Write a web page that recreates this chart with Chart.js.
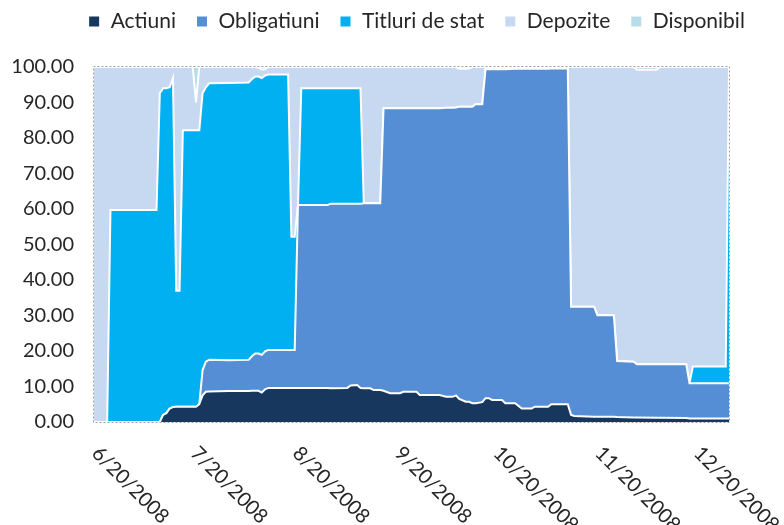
<!DOCTYPE html>
<html>
<head>
<meta charset="utf-8">
<script src="https://cdn.jsdelivr.net/npm/chart.js@4.4.1/dist/chart.umd.min.js"></script>
<style>
  html, body { margin: 0; padding: 0; background: #fff; }
</style>
</head>
<body>
<canvas id="chart" width="784" height="525"></canvas>
<script>
// day offsets from 6/20/2008 where the portfolio shares change
const days = [-1, 3, 4, 18, 19, 20, 21, 22, 23, 24, 25, 26, 29, 30, 31, 32, 33, 34, 40, 46,
  47, 48, 49, 50, 51, 52, 58, 59, 60, 61, 62, 70, 71, 76, 77, 79, 80, 81, 83, 84,
  86, 87, 89, 92, 93, 97, 98, 104, 106, 108, 109, 110, 112, 113, 114, 115, 117, 118, 119, 120,
  123, 124, 127, 129, 132, 133, 137, 138, 143, 144, 145, 151, 152, 157, 158, 163, 164, 170, 171, 179,
  180, 181, 191, 192];

const actiuni = [0, 0, 0, 0, 0, 2.0, 2.5, 3.8, 4.2, 4.3, 4.3, 4.3, 4.3, 4.3, 5.0, 7.5, 8.5, 8.6, 8.7, 8.7,
  8.8, 8.8, 8.8, 8.3, 9.2, 9.6, 9.6, 9.6, 9.6, 9.6, 9.6, 9.6, 9.5, 9.6, 10.3, 10.4, 9.6, 9.5, 9.5, 9.0,
  9.0, 8.8, 8.1, 8.1, 8.5, 8.5, 7.6, 7.6, 7.1, 7.1, 7.5, 6.5, 5.7, 5.7, 5.3, 5.3, 5.6, 6.7, 6.7, 6.2,
  6.2, 5.3, 5.3, 3.8, 3.8, 4.3, 4.3, 5.0, 5.0, 2.0, 1.7, 1.5, 1.5, 1.5, 1.4, 1.3, 1.3, 1.2, 1.2, 1.1,
  1.0, 1.0, 1.0, 1.0];

const obligatiuni = [0, 0, 0, 0, 0, 0, 0, 0, 0, 0, 0, 0, 0, 0, 0, 7.1, 8.5, 8.9, 8.7, 8.8,
  9.7, 10.5, 10.5, 10.6, 10.7, 10.7, 10.7, 10.7, 10.7, 51.5, 51.5, 51.5, 52.0, 51.9, 51.2, 51.1, 51.9, 52.1, 52.1, 52.6,
  52.6, 79.6, 80.3, 80.3, 79.9, 79.9, 80.8, 80.8, 81.4, 81.4, 81.1, 82.3, 83.1, 83.1, 83.5, 84.2, 83.9, 92.7, 92.7, 93.2,
  93.2, 94.1, 94.2, 95.7, 95.7, 95.2, 95.2, 94.6, 94.6, 30.5, 30.8, 31.0, 28.6, 28.6, 15.8, 15.7, 15.0, 15.1, 15.1, 15.2,
  9.9, 9.9, 9.9, 9.9];

const titluriDeStat = [0, 0, 59.7, 59.7, 92.6, 92.0, 91.5, 90.5, 92.7, 32.7, 32.7, 77.9, 77.9, 77.9, 77.2, 78.0, 77.3, 77.9, 78.1, 78.1,
  78.1, 78.0, 78.0, 78.0, 77.7, 77.6, 77.6, 31.9, 31.9, 0, 32.9, 32.9, 32.5, 32.5, 32.5, 32.5, 32.5, 0, 0, 0,
  0, 0, 0, 0, 0, 0, 0, 0, 0, 0, 0, 0, 0, 0, 0, 0, 0, 0, 0, 0,
  0, 0, 0, 0, 0, 0, 0, 0, 0, 0, 0, 0, 0, 0, 0, 0, 0, 0, 0, 0,
  0, 4.7, 4.7, 89.1];

const depozite = [100, 100, 40.3, 40.3, 7.4, 6.0, 6.0, 5.7, 3.1, 63.0, 63.0, 17.8, 17.8, 7.8, 17.8, 7.4, 5.7, 4.6, 4.5, 4.4,
  3.4, 2.7, 2.5, 2.4, 1.8, 2.1, 2.1, 47.8, 47.8, 38.9, 6.0, 6.0, 6.0, 6.0, 6.0, 6.0, 6.0, 38.4, 38.4, 38.4,
  38.4, 11.6, 11.6, 11.6, 11.6, 11.6, 11.6, 11.6, 11.5, 11.5, 11.4, 10.7, 10.7, 10.8, 11.2, 10.5, 10.5, 0.6, 0.6, 0.6,
  0.6, 0.6, 0.5, 0.5, 0.5, 0.5, 0.5, 0.4, 0.4, 67.5, 67.5, 67.5, 69.9, 69.9, 82.8, 83.0, 82.9, 82.9, 83.7, 83.7,
  89.1, 84.4, 84.4, 0];

const disponibil = [0, 0, 0, 0, 0, 0, 0, 0, 0, 0, 0, 0, 0, 10, 0, 0, 0, 0, 0, 0,
  0, 0, 0.2, 0.7, 0.6, 0, 0, 0, 0, 0, 0, 0, 0, 0, 0, 0, 0, 0, 0, 0,
  0, 0, 0, 0, 0, 0, 0, 0, 0, 0, 0, 0.5, 0.5, 0.4, 0, 0, 0, 0, 0, 0,
  0, 0, 0, 0, 0, 0, 0, 0, 0, 0, 0, 0, 0, 0, 0, 0, 0.8, 0.8, 0, 0,
  0, 0, 0, 0];

const seriesNames = ["Actiuni", "Obligatiuni", "Titluri de stat", "Depozite", "Disponibil"];
const seriesColors = ["#17375e", "#558ed5", "#00b0f0", "#c6d9f1", "#b7dee8"];
const tickDays = [0, 30, 61, 92, 122, 153, 183];
const tickLabels = ["6/20/2008", "7/20/2008", "8/20/2008", "9/20/2008", "10/20/2008", "11/20/2008", "12/20/2008"];

const textColor = "#262626";
const font = "Lato";

const toPoints = (vals) => vals.map((v, i) => ({ x: days[i], y: v }));

const datasets = [actiuni, obligatiuni, titluriDeStat, depozite, disponibil].map((vals, i) => ({
  label: seriesNames[i],
  data: toPoints(vals),
  backgroundColor: seriesColors[i],
  borderColor: "#ffffff",
  borderWidth: 2,
  pointRadius: 0,
  tension: 0,
  fill: i === 0 ? "origin" : "-1",
}));

// move the legend to where the original sat
const legendShift = {
  id: "legendShift",
  afterLayout(chart) {
    const lg = chart.legend;
    lg.left += 52;
    lg.right += 52;
    lg.top -= 25;
    lg.bottom -= 25;
  },
};

const plotBorder = {
  id: "plotBorder",
  afterDatasetsDraw(chart) {
    const { ctx, chartArea: a } = chart;
    ctx.save();
    ctx.strokeStyle = "#a0a0a0";
    ctx.lineWidth = 1;
    ctx.setLineDash([2, 2]);
    ctx.strokeRect(a.left - 0.5, a.top - 0.5, a.right - a.left + 1, a.bottom - a.top + 1);
    ctx.restore();
  },
};

// diagonal date labels, reading downwards like the original
const dateLabels = {
  id: "dateLabels",
  afterDraw(chart) {
    const { ctx, scales: { x }, chartArea } = chart;
    ctx.save();
    ctx.font = "20px " + font;
    ctx.fillStyle = textColor;
    ctx.textAlign = "left";
    ctx.textBaseline = "middle";
    tickDays.forEach((d, i) => {
      const px = x.getPixelForValue(d);
      ctx.save();
      ctx.translate(px - 2, chartArea.bottom + 28);
      ctx.rotate(Math.PI / 4);
      ctx.fillText(tickLabels[i], 0, 0);
      ctx.restore();
    });
    ctx.restore();
  },
};

new Chart(document.getElementById("chart"), {
  type: "line",
  data: { datasets },
  options: {
    responsive: false,
    animation: false,
    layout: { padding: { top: 16, right: 55, left: 0, bottom: 0 } },
    plugins: {
      legend: {
        position: "top",
        labels: {
          boxWidth: 12,
          boxHeight: 12,
          padding: 20,
          color: textColor,
          font: { family: font, size: 21 },
        },
      },
      tooltip: { enabled: false },
    },
    scales: {
      x: {
        type: "linear",
        min: -1,
        max: 192,
        grid: { display: false, drawTicks: false },
        border: { display: false },
        ticks: { display: false },
        afterFit(s) { s.height = 103; },
      },
      y: {
        stacked: true,
        min: 0,
        max: 100,
        grid: { display: false, drawTicks: false },
        border: { display: false },
        ticks: {
          stepSize: 10,
          padding: 20,
          color: textColor,
          font: { family: font, size: 20 },
          callback: (v) => v.toFixed(2),
        },
        afterFit(s) { s.width = 94; },
      },
    },
  },
  plugins: [legendShift, plotBorder, dateLabels],
});
</script>
</body>
</html>
